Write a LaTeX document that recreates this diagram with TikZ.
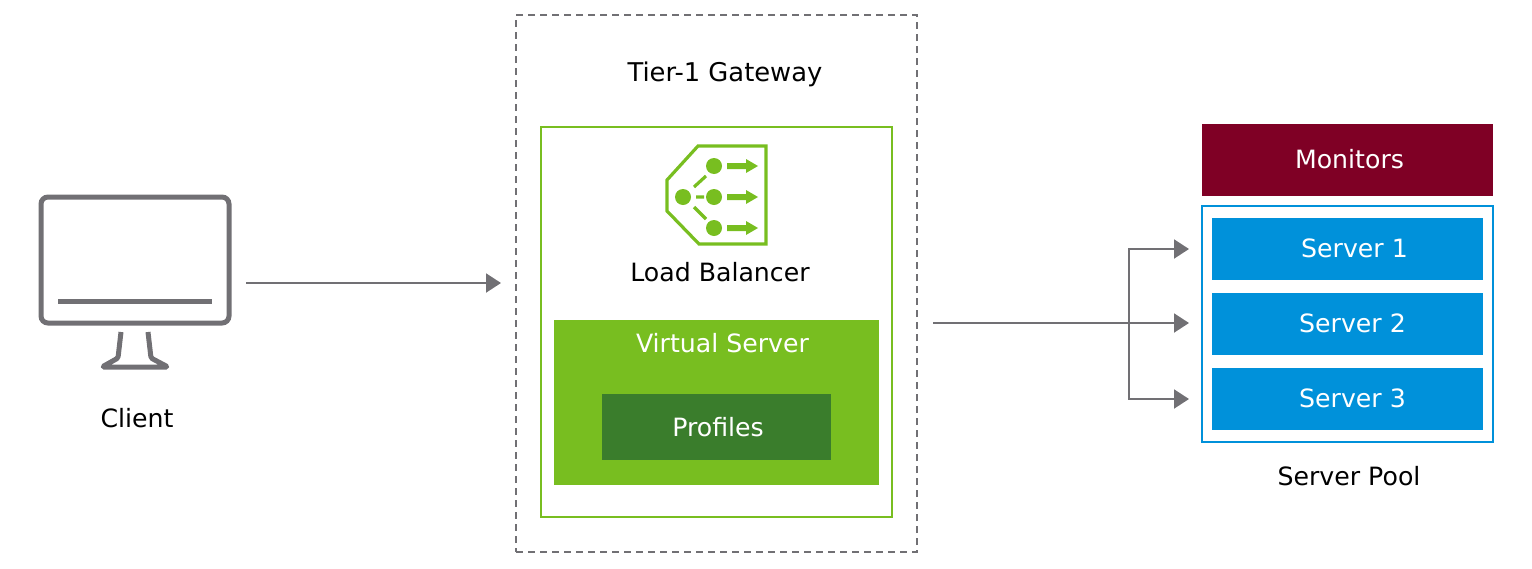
\documentclass[tikz,border=0pt]{standalone}
\usepackage{fontspec}
\setmainfont{DejaVu Sans}
\usetikzlibrary{arrows.meta}
\definecolor{vgreen}{HTML}{78BE20}
\definecolor{vdark}{HTML}{3A7D2C}
\definecolor{vred}{HTML}{7F0025}
\definecolor{vblue}{HTML}{0091DA}
\definecolor{vgray}{HTML}{717074}
\newcommand{\nudged}[3]{\raisebox{#2pt}{\hspace*{#1pt}#3}}
\tikzset{
  x=1pt,y=-1pt,
  box/.style={anchor=north west,inner sep=0pt,outer sep=0pt,font=\fontsize{25.2}{30}\selectfont},
  serverbox/.style={box,fill=vblue,text=white,minimum width=271pt,minimum height=62pt},
  label/.style={inner sep=0pt,font=\fontsize{25.2}{30}\selectfont,text=black},
  conn/.style={draw=vgray,line width=2pt},
  arrowed/.style={conn,-{Triangle[length=15pt,width=19pt,fill=vgray]}},
  icon/.style={draw=vgreen,line width=3.2pt},
  mon/.style={draw=vgray,line width=5pt}
}
\begin{document}
\begin{tikzpicture}
\useasboundingbox (0,0) rectangle (1532,568);
% gateway
\node[box,draw=vgray,line width=1.6pt,dash pattern=on 7pt off 5pt,minimum width=401pt,minimum height=537pt] (gw) at (516,15) {};
\node[label,font=\fontsize{25.8}{30}\selectfont] (gwl) at (725,74) {Tier-1 Gateway};
\node[box,draw=vgreen,line width=2pt,minimum width=351pt,minimum height=390pt] (lbbox) at (541,127) {};
\node[box,fill=vgreen,minimum width=325pt,minimum height=165pt] (vs) at (554,320) {};
\node[label,text=white] (vsl) at (722.5,343) {Virtual Server};
\node[box,fill=vdark,text=white,minimum width=229pt,minimum height=66pt] (prof) at (602,394) {\nudged{3}{1}{Profiles}};
\node[label] (lbl) at (720,272) {Load Balancer};
% load balancer icon
\draw[icon,line join=miter] (698,146) -- (766,146) -- (766,244) -- (699,244) -- (667,211) -- (667,180) -- cycle;
\foreach \p in {(714,166),(714,197),(714,228),(683,197)} \fill[vgreen] \p circle (8);
\draw[icon] (694,187) -- (706,176) (696,197) -- (704,197) (694,207) -- (706,219);
\foreach \y in {166,197,228}
  \fill[vgreen] (727,\y-3) -- (746,\y-3) -- (746,\y-7) -- (758,\y) -- (746,\y+7) -- (746,\y+3) -- (727,\y+3) -- cycle;
% client monitor
\draw[mon,rounded corners=7pt] (41,197) rectangle (229,323);
\draw[draw=vgray,line width=5pt] (58,301) -- (212,301);
\draw[draw=vgray,line width=5pt,line join=round,rounded corners=1.5pt] (121,332) -- (118,358) -- (102,367) -- (168,367) -- (151,358) -- (148,332);
\node[label] (cl) at (137,418) {Client};
\coordinate (ca) at (246,283);
\coordinate (cb) at (501,283);
\draw[arrowed] (ca) -- (cb);
% server pool
\node[box,fill=vred,text=white,minimum width=291pt,minimum height=72pt] (mons) at (1202,124) {\nudged{4}{2}{Monitors}};
\node[box,draw=vblue,line width=2pt,minimum width=291pt,minimum height=236pt] (pool) at (1202,206) {};
\node[serverbox] (s1) at (1212,218) {\nudged{14}{2}{Server 1}};
\node[serverbox] (s2) at (1212,293) {\nudged{10}{2}{Server 2}};
\node[serverbox] (s3) at (1212,368) {\nudged{10}{1}{Server 3}};
\node[label] (pl) at (1349,476) {Server Pool};
% connectors
\coordinate (st) at (933,323);
\coordinate (br) at (1129,323);
\coordinate (e1) at (1189,249);
\coordinate (e2) at (1189,323);
\coordinate (e3) at (1189,399);
\draw[arrowed] (st) -- (e2);
\draw[arrowed] (br) |- (e1);
\draw[arrowed] (br) |- (e3);
\end{tikzpicture}
\end{document}
